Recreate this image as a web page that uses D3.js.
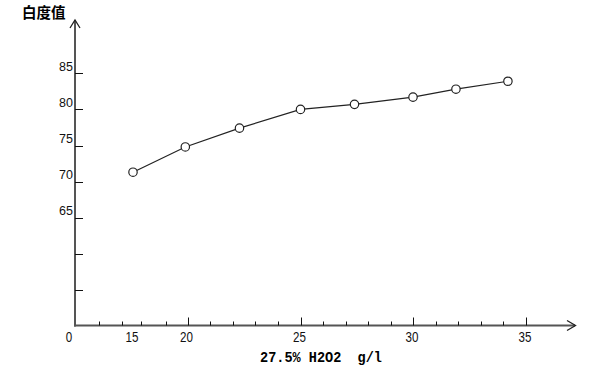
<!DOCTYPE html>
<html>
<head>
<meta charset="utf-8">
<script src="https://cdn.jsdelivr.net/npm/d3@7"></script>
<style>
html,body{margin:0;padding:0;background:#fff;}
svg{display:block;}
</style>
</head>
<body>
<svg id="chart" width="612" height="365"></svg>
<script>
// ---- data ----
const xValues = [15, 19.8, 22.3, 25, 27.4, 30, 31.9, 34.2];
const whiteness = [71.3, 74.8, 77.4, 80.0, 80.7, 81.7, 82.8, 83.9];
const xTickLabels = ["0", "15", "20", "25", "30", "35"];
const xTickValues = [0, 15, 20, 25, 30, 35];
const xMajorTicks = [20, 25, 30, 35];
const xMinorTicks = [6, 12, 15.75, 18, 21, 22, 23, 24, 26, 27, 28, 29, 31, 32, 33, 34];
const yTickValues = [55, 60, 65, 70, 75, 80, 85];
const yTickLabels = ["", "", "65", "70", "75", "80", "85"];
const yTitle = "白度值";
const xTitle = "27.5% H2O2  g/l";

const svg = d3.select("#chart");

// x axis in the original is not uniform: piecewise-linear scale
const x = d3.scaleLinear()
  .domain([0, 15, 20, 25, 30, 35])
  .range([75.5, 133, 187.5, 300.5, 413, 526]);
const y = d3.scaleLinear().domain([50, 85]).range([326, 73.3]);

const axisColor = "#555";
const x0 = 75, yBase = 325.5;
const labelFont = "'Liberation Sans', Arial, sans-serif";

// axes lines
svg.append("line").attr("x1", x0).attr("x2", x0).attr("y1", 20).attr("y2", yBase + 1)
  .attr("stroke", axisColor).attr("stroke-width", 2);
svg.append("line").attr("x1", x0 - 1).attr("x2", 575).attr("y1", yBase).attr("y2", yBase)
  .attr("stroke", axisColor).attr("stroke-width", 2);
// arrow heads (open)
svg.append("path").attr("d", `M${x0-5},${28} L${x0},${20} L${x0+5},${28}`)
  .attr("fill", "none").attr("stroke", "#222").attr("stroke-width", 1.3);
svg.append("path").attr("d", `M567,${yBase-5} L575.5,${yBase} L567,${yBase+5}`)
  .attr("fill", "none").attr("stroke", "#222").attr("stroke-width", 1.3);

// y ticks
const yg = svg.append("g");
yg.selectAll("line").data(yTickValues).join("line")
  .attr("x1", x0).attr("x2", x0 + 8)
  .attr("y1", d => Math.round(y(d)) + 0.5).attr("y2", d => Math.round(y(d)) + 0.5)
  .attr("stroke", "#111").attr("stroke-width", 1);
yg.selectAll("text").data(yTickValues).join("text")
  .attr("x", 73).attr("y", d => y(d) - 2.5)
  .attr("text-anchor", "end")
  .attr("font-family", labelFont)
  .attr("font-size", 12.5).attr("fill", "#111")
  .text((d, i) => yTickLabels[i]);

// x ticks
const xg = svg.append("g");
xg.selectAll("line.maj").data(xMajorTicks).join("line").attr("class", "maj")
  .attr("x1", d => Math.round(x(d)) + 0.5).attr("x2", d => Math.round(x(d)) + 0.5)
  .attr("y1", yBase - 8).attr("y2", yBase)
  .attr("stroke", "#111").attr("stroke-width", 1);
xg.selectAll("line.min").data(xMinorTicks).join("line").attr("class", "min")
  .attr("x1", d => Math.round(x(d)) + 0.5).attr("x2", d => Math.round(x(d)) + 0.5)
  .attr("y1", yBase - 4).attr("y2", yBase)
  .attr("stroke", "#111").attr("stroke-width", 1);
xg.selectAll("text").data(xTickValues).join("text")
  .attr("transform", d => `translate(${d === 0 ? x(d) - 6.5 : x(d) - 1},342) scale(0.8,1)`)
  .attr("text-anchor", "middle")
  .attr("font-family", labelFont)
  .attr("font-size", 14.5).attr("fill", "#111")
  .text((d, i) => xTickLabels[i]);

// titles
svg.append("text").attr("x", 22).attr("y", 17.5)
  .attr("font-family", "'Noto Sans CJK SC', sans-serif").attr("font-weight", "bold")
  .attr("font-size", 14.5).attr("fill", "#000").text(yTitle);
svg.append("text").attr("x", 260).attr("y", 362)
  .attr("font-family", "'Liberation Mono', 'DejaVu Sans Mono', monospace").attr("font-weight", "bold")
  .attr("font-size", 14).attr("fill", "#000")
  .style("white-space", "pre")
  .attr("textLength", 122).attr("lengthAdjust", "spacingAndGlyphs")
  .text(xTitle);

// data line + markers
const pts = xValues.map((v, i) => [v, whiteness[i]]);
svg.append("path").datum(pts)
  .attr("d", d3.line().x(d => x(d[0])).y(d => y(d[1])))
  .attr("fill", "none").attr("stroke", "#222").attr("stroke-width", 1.2);
svg.append("g").selectAll("circle").data(pts).join("circle")
  .attr("cx", d => x(d[0])).attr("cy", d => y(d[1])).attr("r", 4.2)
  .attr("fill", "#fff").attr("stroke", "#222").attr("stroke-width", 1.2);
</script>
</body>
</html>
